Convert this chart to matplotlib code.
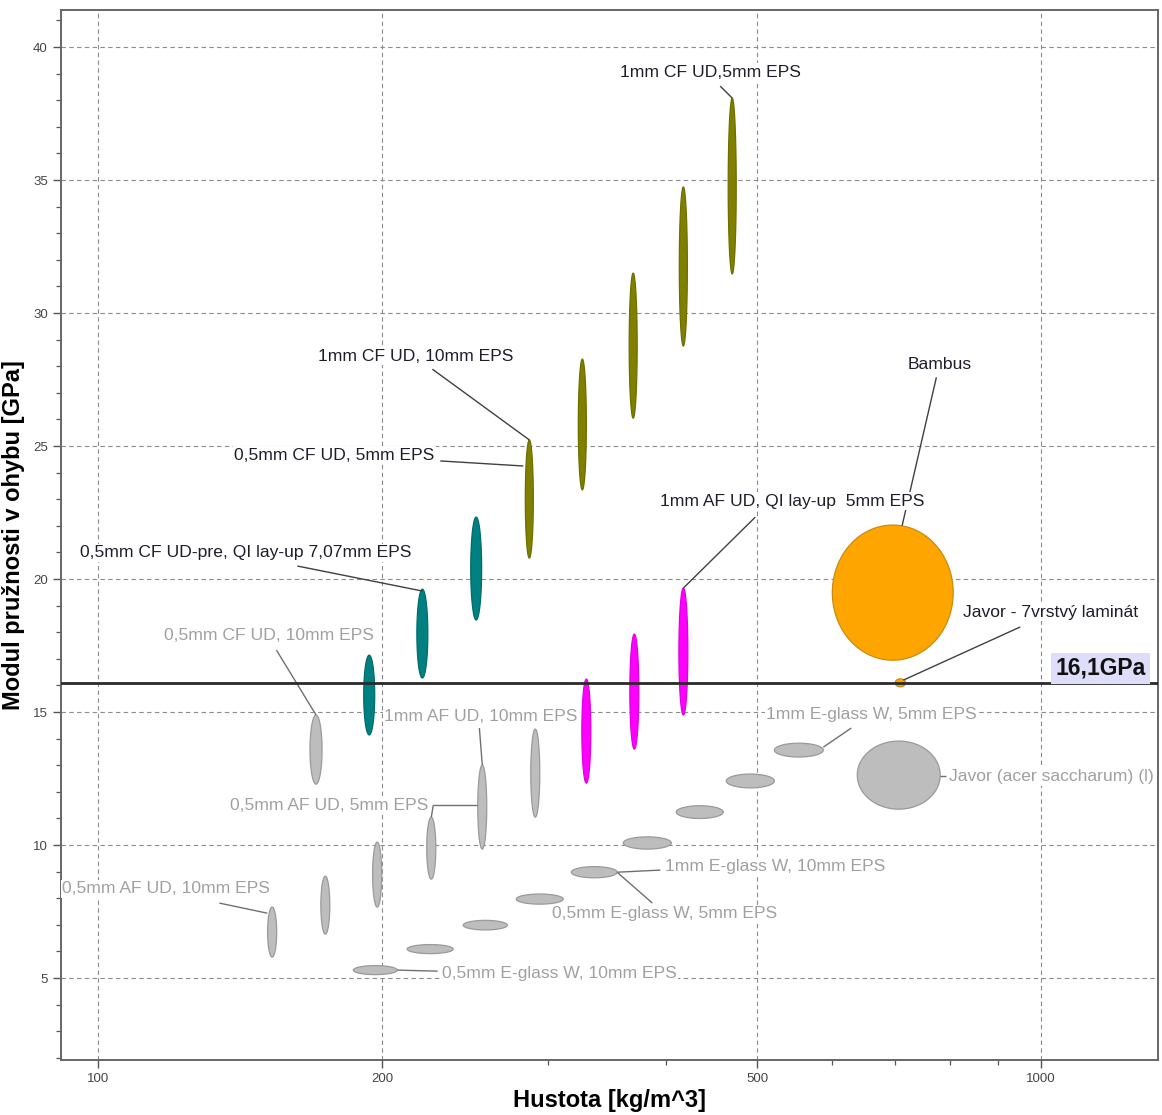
import numpy as np
import matplotlib
matplotlib.use("Agg")
import matplotlib.pyplot as plt
from matplotlib.ticker import FixedLocator, NullFormatter

plt.rcParams["font.family"] = ["Liberation Sans", "DejaVu Sans"]

# density ranges [kg/m^3] and flexural modulus ranges [GPa]
cf_ud_dens = [(283.7, 289.3), (322.9, 329.3), (365.6, 372.8), (413.2, 421.4), (465.6, 474.8)]
cf_ud_mod = [(20.79, 25.23), (23.35, 28.27), (26.05, 31.50), (28.76, 34.74), (31.47, 38.08)]

cf_qi_dens = [(191.2, 196.4), (217.7, 223.6), (248.3, 255.0)]
cf_qi_mod = [(14.14, 17.14), (16.28, 19.62), (18.46, 22.33)]

af_qi_dens = [(325.7, 332.9), (366.2, 374.3), (412.8, 421.9)]
af_qi_mod = [(12.33, 16.24), (13.61, 17.93), (14.89, 19.66)]

af_ud_dens = [(167.7, 172.7), (151.2, 154.6), (172.2, 176.0), (195.4, 199.8),
              (223.0, 228.0), (252.6, 258.2), (287.5, 293.9)]
af_ud_mod = [(12.29, 14.89), (5.79, 7.67), (6.65, 8.83), (7.67, 10.11),
             (8.72, 11.05), (9.85, 13.01), (11.05, 14.36)]

eglass_dens = [(186.4, 207.5), (212.6, 237.9), (243.8, 271.5), (277.5, 311.2), (317.4, 355.0),
               (360.4, 405.2), (410.2, 460.0), (463.4, 521.2), (521.2, 587.3)]
eglass_mod = [(5.13, 5.47), (5.92, 6.26), (6.81, 7.17), (7.78, 8.16), (8.77, 9.19),
              (9.85, 10.31), (11.00, 11.48), (12.15, 12.67), (13.31, 13.83)]

bamboo_dens, bamboo_mod = (600.4, 806.5), (16.95, 22.03)
maple_dens, maple_mod = (638.1, 781.3), (11.35, 13.91)
plywood_dens, plywood_mod = (700.0, 718.0), (15.95, 16.25)

ref_modulus = 16.1

fig = plt.figure(figsize=(11.62, 11.15), dpi=100)
ax = fig.add_axes([0.0525, 0.0493, 0.9441, 0.9417])
ax.set_xscale("log")
ax.set_xlim(91.3, 1330)
ax.set_ylim(1.92, 41.39)

t = np.linspace(0, 2 * np.pi, 200)


def bubble(dens, mod, face, edge, z=3):
    l0, l1 = np.log10(dens[0]), np.log10(dens[1])
    lx = (l0 + l1) / 2 + (l1 - l0) / 2 * np.cos(t)
    y = (mod[0] + mod[1]) / 2 + (mod[1] - mod[0]) / 2 * np.sin(t)
    ax.fill(10 ** lx, y, facecolor=face, edgecolor=edge, lw=0.9, zorder=z)


for d, m in zip(eglass_dens, eglass_mod):
    bubble(d, m, "#bdbdbd", "#9a9a9a")
for d, m in zip(af_ud_dens, af_ud_mod):
    bubble(d, m, "#bdbdbd", "#9a9a9a")
bubble(maple_dens, maple_mod, "#bdbdbd", "#9a9a9a")
for d, m in zip(cf_ud_dens, cf_ud_mod):
    bubble(d, m, "#808000", "#6e6e00")
for d, m in zip(cf_qi_dens, cf_qi_mod):
    bubble(d, m, "#008080", "#006c6c")
for d, m in zip(af_qi_dens, af_qi_mod):
    bubble(d, m, "#ff00ff", "#e000e0")
bubble(bamboo_dens, bamboo_mod, "#ffa500", "#c98b10")
bubble(plywood_dens, plywood_mod, "#ffa500", "#c98b10")

ax.axhline(ref_modulus, color="#2a2a2a", lw=2.0, zorder=7)

dark = "#1e1e2a"
grey = "#a0a0a0"
box = dict(facecolor="white", edgecolor="none", pad=1.0)

# text, anchor (x, y), colour, leader segments
labels = [
    ("1mm CF UD,5mm EPS", (357.8, 39.06), dark, [((456.6, 38.53), (470.2, 38.08))]),
    ("1mm CF UD, 10mm EPS", (171.1, 28.38), dark, [((226.1, 27.89), (286.5, 25.23))]),
    ("0,5mm CF UD, 5mm EPS", (139.4, 24.66), dark, [((230.5, 24.44), (282.3, 24.25))]),
    ("0,5mm CF UD-pre, QI lay-up 7,07mm EPS", (95.7, 20.98), dark,
     [((162.6, 20.49), (220.6, 19.55))]),
    ("1mm AF UD, QI lay-up  5mm EPS", (394.5, 22.93), dark, [((497.5, 22.33), (417.3, 19.66))]),
    ("Javor - 7vrstvý laminát", (826.5, 18.76), dark, [((950.0, 18.20), (714.0, 16.20))]),
    ("0,5mm CF UD, 10mm EPS", (117.5, 17.86), grey, [((154.5, 17.33), (170.2, 14.89))]),
    ("1mm AF UD, 10mm EPS", (201.0, 14.85), grey, [((253.6, 14.40), (255.4, 13.01))]),
    ("0,5mm AF UD, 5mm EPS", (138.0, 11.50), grey,
     [((226.6, 11.50), (252.4, 11.50)), ((226.6, 11.50), (225.5, 11.05))]),
    ("0,5mm AF UD, 10mm EPS", (91.6, 8.35), grey, [((134.4, 7.82), (151.1, 7.44))]),
    ("0,5mm E-glass W, 10mm EPS", (231.6, 5.19), grey, [((207.5, 5.30), (229.0, 5.26))]),
    ("0,5mm E-glass W, 5mm EPS", (302.9, 7.41), grey, [((355.0, 8.98), (386.9, 7.82))]),
    ("1mm E-glass W, 10mm EPS", (399.4, 9.21), grey, [((355.0, 8.98), (394.5, 9.06))]),
    ("1mm E-glass W, 5mm EPS", (511.0, 14.92), grey, [((587.3, 13.68), (628.8, 14.40))]),
    ("Javor (acer saccharum) (l)", (798.6, 12.56), grey, [((781.3, 12.59), (793.0, 12.59))]),
]

for text, (x, y), col, segs in labels:
    for (x0, y0), (x1, y1) in segs:
        ax.plot([x0, x1], [y0, y1], color="#707070" if col == grey else "#404040",
                lw=1.0, zorder=5, solid_capstyle="butt")
    ax.text(x, y, text, color=col, fontsize=12.6, ha="left", va="center", bbox=box, zorder=6)

ax.plot([773.8, 712.2], [27.56, 22.03], color="#404040", lw=1.0, zorder=5)
ax.text(779.4, 28.08, "Bambus", color=dark, fontsize=12.6, ha="center", va="center",
        bbox=box, zorder=6)

ax.text(1155, 16.65, "16,1GPa", color="#111111", fontsize=16.5, fontweight="bold",
        ha="center", va="center", zorder=8,
        bbox=dict(facecolor="#dedefa", edgecolor="none", pad=3))

# axes, ticks, grid
ax.xaxis.set_major_locator(FixedLocator([100, 200, 500, 1000]))
ax.xaxis.set_minor_locator(FixedLocator([300, 400, 600, 700, 800, 900]))
ax.xaxis.set_minor_formatter(NullFormatter())
ax.set_xticklabels(["100", "200", "500", "1000"])
ax.yaxis.set_major_locator(FixedLocator(np.arange(5, 41, 5)))
ax.yaxis.set_minor_locator(FixedLocator(np.arange(2, 42, 1)))

ax.grid(True, which="major", color="#8c8c8c", lw=0.8, ls=(0, (4, 3)), zorder=0)
ax.set_axisbelow(True)
for s in ax.spines.values():
    s.set_color("#666666")
    s.set_linewidth(1.4)
ax.tick_params(which="major", length=6, width=1.0, color="#555555", labelsize=9.5,
               labelcolor="#444444")
ax.tick_params(which="minor", length=3.5, width=0.9, color="#555555")

ax.set_xlabel("Hustota [kg/m^3]", fontsize=17, fontweight="bold", labelpad=3)
ax.set_ylabel("Modul pružnosti v ohybu [GPa]", fontsize=17, fontweight="bold", labelpad=6)

fig.savefig("out.png", dpi=100)
